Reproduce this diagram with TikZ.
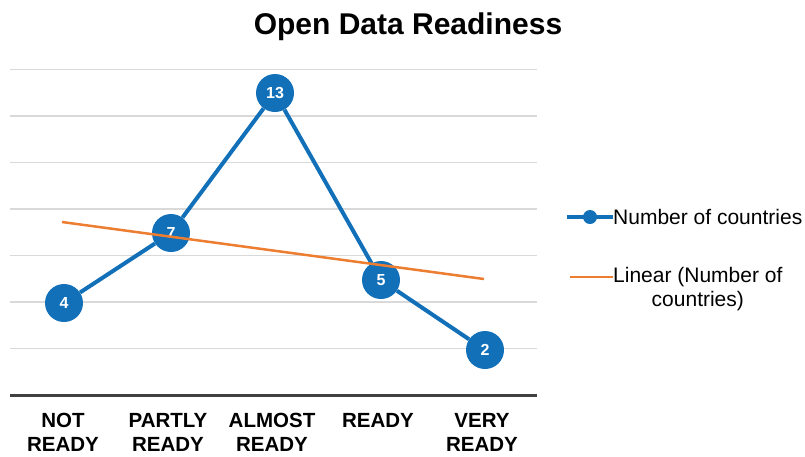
\documentclass[tikz,border=0pt]{standalone}
\usepackage{fontspec}
\setmainfont{Liberation Sans}
\usetikzlibrary{positioning}
\definecolor{serblue}{RGB}{17,112,184}
\definecolor{trendorange}{RGB}{237,125,49}

\begin{document}
\begin{tikzpicture}[
    x=1pt, y=-1pt,
    grid/.style={draw=gray!30, line width=1.2pt},
    axis/.style={draw=black!75, line width=3pt},
    dot/.style={circle, fill=serblue, minimum size=38pt, inner sep=0pt, text=white, font=\fontsize{16}{16}\selectfont\bfseries},
    series/.style={draw=serblue, line width=4pt},
    trend/.style={draw=trendorange, line width=2.5pt},
    cat/.style={font=\fontsize{20.5}{24}\selectfont\bfseries, align=center, anchor=north, inner sep=0pt},
    legend/.style={font=\fontsize{21}{24}\selectfont, align=center, anchor=west, inner sep=0pt}
]
\useasboundingbox (0,0) rectangle (805,456);

% Title
\node[font=\fontsize{30}{30}\selectfont\bfseries] (title) at (408,27) {Open Data Readiness};

% Grid and axis
\foreach \v in {2,4,...,14}
    \draw[grid] (10,{395-23.25*\v}) -- (537,{395-23.25*\v});
\draw[axis] (10,395) -- (537,395);

% Data points
\node[dot] (p1) at (64,303) {4};
\node[dot] (p2) at (171,233) {7};
\node[dot] (p3) at (275,93) {13};
\node[dot] (p4) at (381,280) {5};
\node[dot] (p5) at (485,350) {2};

% Series
\foreach \a/\b in {p1/p2,p2/p3,p3/p4,p4/p5}
    \draw[series] (\a) -- (\b);

% Trend line
\coordinate (t1) at (62,222);
\coordinate (t5) at (484,279);
\draw[trend] (t1) -- (t5);

% Categories
\node[cat] (c1) at (63,413) {NOT\\READY};
\node[cat] (c2) at (168,413) {PARTLY\\READY};
\node[cat] (c3) at (272,413) {ALMOST\\READY};
\node[cat] (c4) at (378,413) {READY};
\node[cat] (c5) at (482,413) {VERY\\READY};

% Legend
\node[legend] (leg1) at (613,217) {Number of countries};
\coordinate (l1) at (567,217);
\draw[series, line width=4.5pt] (l1) -- (leg1.west);
\fill[serblue] (590,217) circle (7pt);
\node[legend] (leg2) at (613,289) {Linear (Number of\\countries)};
\coordinate (l2) at (570,277);
\draw[trend] (l2) -- (l2 -| leg2.west);
\end{tikzpicture}
\end{document}
